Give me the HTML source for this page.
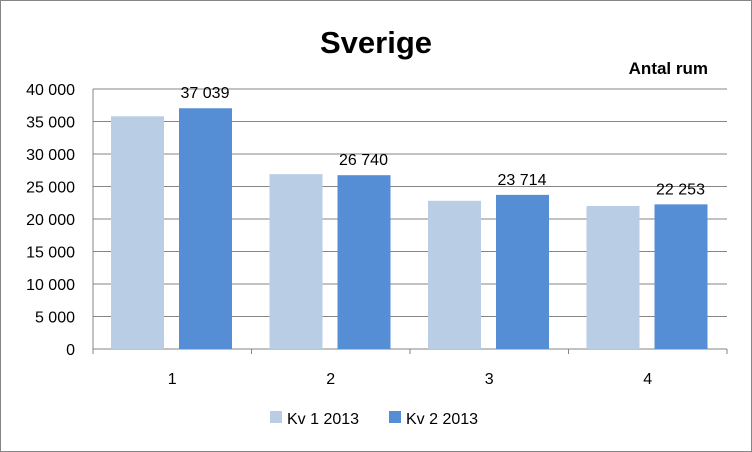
<!DOCTYPE html>
<html><head><meta charset="utf-8"><style>
body{margin:0;background:#fff}
svg{display:block;font-family:"Liberation Sans",sans-serif}
</style></head><body>
<svg width="752" height="452">
<rect x="0.5" y="0.5" width="751" height="451" fill="#fff" stroke="#868686"/>
<text x="376" y="53" text-anchor="middle" font-size="31" font-weight="bold">Sverige</text>
<text x="708" y="74" text-anchor="end" font-size="17" font-weight="bold">Antal rum</text>
<g id="grid"></g><g id="bars"></g><g id="axis"></g>
<g>
<rect x="270" y="411" width="12" height="12" fill="#B9CDE5"/>
<text x="287" y="424" font-size="16">Kv 1 2013</text>
<rect x="389" y="411" width="12" height="12" fill="#558ED5"/>
<text x="406" y="424" font-size="16">Kv 2 2013</text>
</g>
</svg>
<script>
const categories=["1","2","3","4"];
const kv1=[35800,26900,22800,22000];
const kv2=[37039,26740,23714,22253];
const kv2Labels=["37 039","26 740","23 714","22 253"];
const yTicks=[0,5000,10000,15000,20000,25000,30000,35000,40000];
const yTickLabels=["0","5 000","10 000","15 000","20 000","25 000","30 000","35 000","40 000"];
const NS="http://www.w3.org/2000/svg";
const L=93,R=727,Y0=349,Y1=89,MAX=40000;
const y=v=>Y0-(v/MAX)*(Y0-Y1);
const bw=(R-L)/categories.length;
const x=i=>L+bw*i;
function mk(tag,attrs,parent,txt){const e=document.createElementNS(NS,tag);for(const k in attrs)e.setAttribute(k,attrs[k]);if(txt!==undefined)e.textContent=txt;document.getElementById(parent).appendChild(e);return e;}
yTicks.forEach((t,i)=>{
 const g=mk("line",{x1:L,x2:R,y1:y(t),y2:y(t),stroke:i===0?"#868686":"#868686","stroke-width":1},"grid");
 
 
 const tl=mk("text",{x:75,y:y(t)+6,"text-anchor":"end","font-size":16},"axis",yTickLabels[i]);
 
 
});
const ax=mk("line",{x1:L,x2:L,y1:Y1,y2:Y0,stroke:"#868686"},"axis");


categories.forEach((c,i)=>{
 const b1=mk("rect",{x:x(i)+18,y:y(kv1[i]),width:53,height:Y0-y(kv1[i]),fill:"#B9CDE5"},"bars");
 
 
 const b2=mk("rect",{x:x(i)+86,y:y(kv2[i]),width:53,height:Y0-y(kv2[i]),fill:"#558ED5"},"bars");
 
 
 const vl=mk("text",{x:x(i)+112,y:y(kv2[i])-10,"text-anchor":"middle","font-size":16},"bars",kv2Labels[i]);
 
 
 const cl=mk("text",{x:x(i)+bw/2,y:384,"text-anchor":"middle","font-size":16},"axis",c);
 
 
 const tk=mk("line",{x1:x(i),x2:x(i),y1:Y0,y2:Y0+5,stroke:"#868686"},"axis");
 
 
});
const tkl=mk("line",{x1:R,x2:R,y1:Y0,y2:Y0+5,stroke:"#868686"},"axis");


</script>
</body></html>
